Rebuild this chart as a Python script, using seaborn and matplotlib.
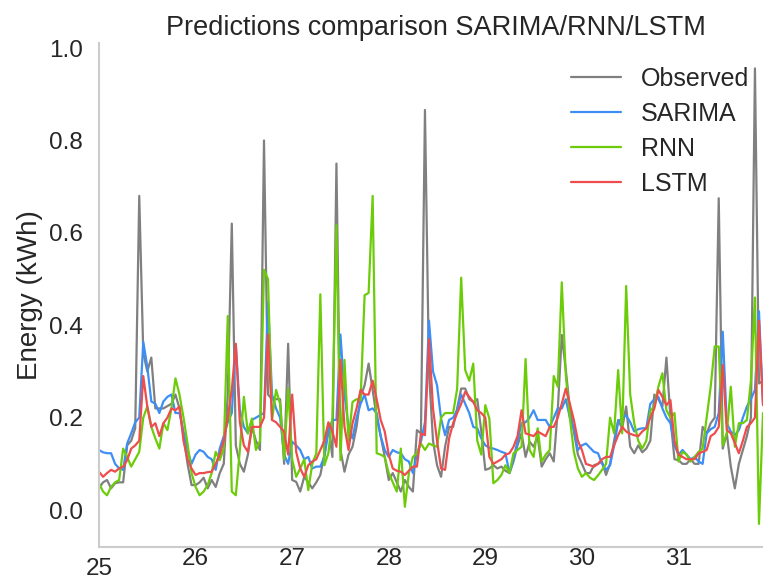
import numpy as np
import pandas as pd
import seaborn as sns
import matplotlib.pyplot as plt

# Hourly energy (kWh) from the 25th 00:00 onwards, one value per hour
observed = [
    0.047, 0.060, 0.065, 0.047, 0.058, 0.060, 0.060, 0.140, 0.150, 0.177, 0.680, 0.340, 0.300, 0.330, 0.220, 0.220, 0.220, 0.225, 0.230, 0.250, 0.220, 0.160, 0.100, 0.054,
    0.054, 0.060, 0.070, 0.047, 0.065, 0.050, 0.080, 0.100, 0.250, 0.620, 0.140, 0.100, 0.083, 0.120, 0.180, 0.150, 0.130, 0.800, 0.250, 0.240, 0.240, 0.240, 0.100, 0.360,
    0.065, 0.061, 0.040, 0.072, 0.060, 0.047, 0.060, 0.076, 0.120, 0.180, 0.115, 0.750, 0.130, 0.083, 0.120, 0.137, 0.180, 0.245, 0.270, 0.317, 0.260, 0.200, 0.160, 0.115,
    0.065, 0.080, 0.060, 0.040, 0.065, 0.050, 0.040, 0.173, 0.166, 0.866, 0.300, 0.150, 0.097, 0.072, 0.137, 0.180, 0.180, 0.220, 0.263, 0.263, 0.240, 0.234, 0.240, 0.170,
    0.087, 0.090, 0.097, 0.090, 0.094, 0.085, 0.080, 0.105, 0.140, 0.166, 0.115, 0.148, 0.137, 0.159, 0.094, 0.110, 0.123, 0.105, 0.216, 0.379, 0.303, 0.220, 0.170, 0.120,
    0.100, 0.080, 0.080, 0.097, 0.100, 0.105, 0.076, 0.100, 0.150, 0.195, 0.177, 0.224, 0.137, 0.123, 0.140, 0.125, 0.133, 0.150, 0.250, 0.240, 0.224, 0.330, 0.200, 0.110,
    0.108, 0.100, 0.100, 0.110, 0.100, 0.100, 0.180, 0.166, 0.188, 0.200, 0.675, 0.133, 0.166, 0.094, 0.047, 0.100, 0.130, 0.160, 0.200, 0.956, 0.274, 0.280,
]
sarima = [
    0.130, 0.125, 0.123, 0.123, 0.100, 0.090, 0.087, 0.144, 0.166, 0.190, 0.200, 0.364, 0.310, 0.235, 0.230, 0.210, 0.235, 0.245, 0.250, 0.210, 0.210, 0.170, 0.130, 0.100,
    0.120, 0.130, 0.126, 0.115, 0.110, 0.087, 0.133, 0.160, 0.190, 0.210, 0.357, 0.216, 0.180, 0.166, 0.195, 0.200, 0.205, 0.210, 0.450, 0.250, 0.220, 0.200, 0.120, 0.100,
    0.148, 0.140, 0.130, 0.110, 0.115, 0.090, 0.094, 0.094, 0.115, 0.170, 0.195, 0.195, 0.380, 0.250, 0.180, 0.155, 0.200, 0.230, 0.250, 0.216, 0.220, 0.210, 0.160, 0.130,
    0.115, 0.130, 0.125, 0.123, 0.110, 0.105, 0.080, 0.120, 0.148, 0.190, 0.410, 0.300, 0.270, 0.198, 0.162, 0.195, 0.200, 0.216, 0.250, 0.230, 0.210, 0.180, 0.177, 0.155,
    0.140, 0.135, 0.133, 0.130, 0.126, 0.123, 0.080, 0.110, 0.150, 0.188, 0.190, 0.200, 0.216, 0.195, 0.195, 0.195, 0.180, 0.200, 0.220, 0.220, 0.240, 0.200, 0.177, 0.130,
    0.140, 0.144, 0.135, 0.126, 0.123, 0.100, 0.087, 0.097, 0.140, 0.190, 0.200, 0.205, 0.190, 0.170, 0.175, 0.177, 0.177, 0.230, 0.240, 0.245, 0.220, 0.200, 0.188, 0.140,
    0.120, 0.130, 0.120, 0.110, 0.115, 0.105, 0.100, 0.166, 0.175, 0.180, 0.210, 0.386, 0.188, 0.170, 0.162, 0.173, 0.200, 0.224, 0.240, 0.260, 0.430, 0.230,
]
rnn = [
    0.058, 0.040, 0.032, 0.050, 0.060, 0.065, 0.133, 0.115, 0.094, 0.110, 0.126, 0.200, 0.224, 0.180, 0.155, 0.133, 0.188, 0.173, 0.220, 0.285, 0.250, 0.200, 0.144, 0.080,
    0.050, 0.032, 0.040, 0.054, 0.080, 0.126, 0.108, 0.133, 0.420, 0.040, 0.032, 0.130, 0.245, 0.166, 0.198, 0.130, 0.150, 0.520, 0.500, 0.195, 0.260, 0.230, 0.110, 0.263,
    0.110, 0.072, 0.090, 0.110, 0.043, 0.100, 0.123, 0.467, 0.097, 0.123, 0.200, 0.617, 0.108, 0.325, 0.150, 0.234, 0.240, 0.238, 0.465, 0.470, 0.680, 0.123, 0.120, 0.115,
    0.080, 0.060, 0.040, 0.133, 0.007, 0.080, 0.115, 0.123, 0.144, 0.130, 0.144, 0.140, 0.137, 0.200, 0.210, 0.210, 0.210, 0.263, 0.503, 0.303, 0.280, 0.317, 0.150, 0.120,
    0.227, 0.198, 0.058, 0.065, 0.076, 0.097, 0.080, 0.123, 0.130, 0.137, 0.327, 0.130, 0.115, 0.177, 0.105, 0.120, 0.130, 0.290, 0.267, 0.493, 0.292, 0.200, 0.126, 0.090,
    0.072, 0.080, 0.070, 0.065, 0.075, 0.087, 0.100, 0.200, 0.166, 0.303, 0.166, 0.485, 0.250, 0.188, 0.150, 0.133, 0.150, 0.216, 0.224, 0.267, 0.296, 0.216, 0.200, 0.210,
    0.105, 0.126, 0.120, 0.105, 0.115, 0.126, 0.133, 0.200, 0.267, 0.354, 0.354, 0.140, 0.166, 0.267, 0.137, 0.188, 0.188, 0.195, 0.280, 0.460, -0.030, 0.210,
]
lstm = [
    0.083, 0.072, 0.080, 0.087, 0.083, 0.090, 0.094, 0.108, 0.133, 0.140, 0.150, 0.290, 0.224, 0.180, 0.188, 0.160, 0.188, 0.200, 0.220, 0.216, 0.224, 0.150, 0.110, 0.090,
    0.076, 0.080, 0.080, 0.082, 0.083, 0.100, 0.120, 0.150, 0.200, 0.260, 0.360, 0.190, 0.140, 0.126, 0.180, 0.180, 0.180, 0.200, 0.380, 0.195, 0.190, 0.180, 0.170, 0.120,
    0.250, 0.126, 0.090, 0.072, 0.097, 0.105, 0.110, 0.130, 0.150, 0.190, 0.170, 0.137, 0.325, 0.180, 0.130, 0.188, 0.220, 0.260, 0.250, 0.250, 0.280, 0.240, 0.195, 0.170,
    0.120, 0.090, 0.085, 0.083, 0.076, 0.085, 0.094, 0.094, 0.166, 0.162, 0.370, 0.220, 0.150, 0.090, 0.087, 0.155, 0.188, 0.210, 0.230, 0.256, 0.245, 0.234, 0.216, 0.210,
    0.200, 0.115, 0.100, 0.105, 0.110, 0.120, 0.123, 0.137, 0.160, 0.216, 0.166, 0.163, 0.160, 0.170, 0.165, 0.160, 0.180, 0.180, 0.200, 0.230, 0.263, 0.230, 0.195, 0.150,
    0.130, 0.100, 0.097, 0.094, 0.100, 0.110, 0.115, 0.115, 0.140, 0.162, 0.180, 0.170, 0.165, 0.162, 0.160, 0.170, 0.177, 0.200, 0.220, 0.260, 0.245, 0.227, 0.238, 0.150,
    0.120, 0.115, 0.110, 0.110, 0.110, 0.123, 0.126, 0.130, 0.160, 0.166, 0.180, 0.314, 0.173, 0.166, 0.145, 0.123, 0.150, 0.180, 0.188, 0.200, 0.410, 0.227,
]

series_names = ["Observed", "SARIMA", "RNN", "LSTM"]
series_colors = ["#808080", "#3d8ef5", "#6ccc0a", "#ee4d4d"]
day_ticks = [25, 26, 27, 28, 29, 30, 31]

n = len(observed)
day = 25 + np.arange(n) / 24.0
df = pd.DataFrame({
    "day": np.tile(day, 4),
    "energy": np.concatenate([observed, sarima, rnn, lstm]),
    "model": np.repeat(series_names, n),
})

sns.set_theme(style="white", context="talk")
plt.rcParams["font.family"] = ["Liberation Sans", "DejaVu Sans"]

fig = plt.figure(figsize=(7.63, 5.83), dpi=100)
ax = fig.add_axes([99 / 763, 1 - 547 / 583, (763 - 99) / 763, (547 - 43) / 583])

sns.lineplot(data=df, x="day", y="energy", hue="model", hue_order=series_names,
             palette=dict(zip(series_names, series_colors)), linewidth=1.6,
             ax=ax, legend=False)

ax.set_xlim(day[0], day[-1])
ax.set_ylim(-0.08, 1.011)
ax.set_yticks([0.0, 0.2, 0.4, 0.6, 0.8, 1.0])

# first day as major tick (label sits lower), remaining days as minor ticks
ax.set_xticks([day_ticks[0]])
ax.set_xticklabels([str(day_ticks[0])])
ax.set_xticks(day_ticks[1:], minor=True)
ax.set_xticklabels([str(d) for d in day_ticks[1:]], minor=True)
ax.tick_params(axis="x", which="major", length=0, pad=8, labelsize=17.5, labelcolor="#262626")
ax.tick_params(axis="x", which="minor", length=0, pad=1, labelsize=17.5, labelcolor="#262626")
ax.tick_params(axis="y", length=0, pad=11.5, labelsize=17.5, labelcolor="#262626")

ax.set_xlabel("")
ax.set_ylabel("Energy (kWh)", fontsize=20, color="#262626", labelpad=4)
ax.set_title("Predictions comparison SARIMA/RNN/LSTM", fontsize=19.5, color="#262626",
             x=0.5075)

for side in ("top", "right"):
    ax.spines[side].set_visible(False)
for side in ("left", "bottom"):
    ax.spines[side].set_color("#cccccc")
    ax.spines[side].set_linewidth(1.5)

handles = [plt.Line2D([], [], color=c, linewidth=1.6) for c in series_colors]
ax.legend(handles, series_names, loc="upper right", frameon=False, fontsize=18,
          handlelength=2.0, labelspacing=0.44, borderaxespad=0.3,
          bbox_to_anchor=(1.005, 0.987), labelcolor="#262626")

fig.savefig("out.png", dpi=100)
